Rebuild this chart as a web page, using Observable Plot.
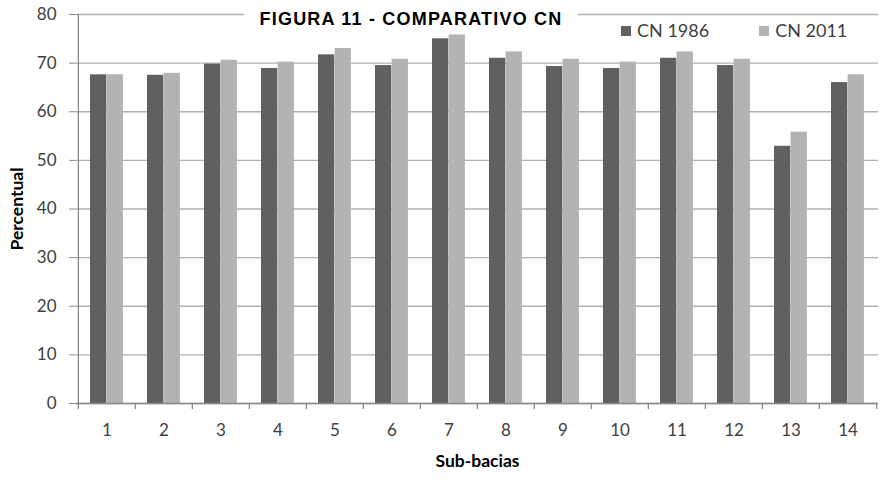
<!DOCTYPE html>
<html>
<head>
<meta charset="utf-8">
<script src="https://cdn.jsdelivr.net/npm/d3@7"></script>
<script src="https://cdn.jsdelivr.net/npm/@observablehq/plot@0.6"></script>
<style>
  html, body { margin: 0; padding: 0; background: #fff; }
  #wrap { position: relative; width: 885px; height: 480px; }
  #title { position: absolute; top: 9px; left: 244px; width: 334px; text-align: center;
    font: bold 18px "Liberation Sans", Arial, sans-serif; letter-spacing: 1.2px; color: #000; background: #fff; line-height: 20px; }
  #legend { position: absolute; top: 19px; left: 621px; font: 18px Lato, sans-serif; color: #404040; display: flex; gap: 50px; }
  #legend span.sw { display: inline-block; width: 10px; height: 10px; margin-right: 6px; vertical-align: 1px; }
</style>
</head>
<body>
<div id="wrap">
  <div id="chart"></div>
  <div id="title"></div>
  <div id="legend"></div>
</div>
<script>
const titleText = "FIGURA 11 - COMPARATIVO CN";
const categories = ["1","2","3","4","5","6","7","8","9","10","11","12","13","14"];
const seriesNames = ["CN 1986", "CN 2011"];
const cn1986 = [67.6, 67.5, 69.8, 68.9, 71.7, 69.5, 75.0, 71.0, 69.3, 68.9, 71.0, 69.5, 52.9, 66.0];
const cn2011 = [67.6, 67.9, 70.6, 70.2, 73.0, 70.8, 75.8, 72.3, 70.8, 70.2, 72.3, 70.8, 55.8, 67.6];
const yTicks = [0, 10, 20, 30, 40, 50, 60, 70, 80];
const colors = ["#606060", "#b3b3b3"];

const d1 = categories.map((c, i) => ({cat: c, value: cn1986[i]}));
const d2 = categories.map((c, i) => ({cat: c, value: cn2011[i]}));

const W = 885, H = 480, mL = 76, mR = 7;
const step = (W - mL - mR) / categories.length;
const half = step / 2;

const chart = Plot.plot({
  width: W, height: H,
  marginLeft: mL, marginRight: mR, marginTop: 14, marginBottom: 77,
  style: {fontFamily: "Lato, sans-serif", fontSize: "17px", color: "#404040", background: "#fff"},
  x: {type: "band", domain: categories, padding: 0},
  y: {domain: [0, 80]},
  marks: [
    Plot.ruleY(yTicks, {stroke: "#b0b0b0", strokeWidth: 1.3}),
    Plot.barY(d1, {x: "cat", y: "value", fill: colors[0], insetLeft: 12, insetRight: step - 28.6}),
    Plot.barY(d2, {x: "cat", y: "value", fill: colors[1], insetLeft: 28.6, insetRight: step - 45.2}),
    Plot.ruleY([0], {stroke: "#8a8a8a", strokeWidth: 1.3}),
    Plot.ruleX([categories[0]], {dx: -half, y1: 0, y2: 80, stroke: "#8a8a8a", strokeWidth: 1.3}),
    Plot.ruleX(categories, {dx: -half, y1: 0, y2: -1.25, stroke: "#8a8a8a", strokeWidth: 1.3}),
    Plot.ruleX([categories[categories.length - 1]], {dx: half, y1: 0, y2: -1.25, stroke: "#8a8a8a", strokeWidth: 1.3}),
    Plot.axisY(yTicks, {tickSize: 7, tickPadding: 13, stroke: "#8a8a8a", label: "Percentual", labelAnchor: "center", labelArrow: "none", labelOffset: 66, fontSize: 17}),
    Plot.axisX({tickSize: 0, tickPadding: 20, label: "Sub-bacias", labelAnchor: "center", labelArrow: "none", labelOffset: 63, fontSize: 17})
  ]
});
document.getElementById("chart").appendChild(chart);

chart.querySelectorAll("g[aria-label='y-axis label'] text, g[aria-label='x-axis label'] text").forEach(t => {
  t.setAttribute("font-weight", "bold");
  t.setAttribute("fill", "#000");
  t.setAttribute("font-size", "17.5");
});

document.getElementById("title").textContent = titleText;
const leg = document.getElementById("legend");
seriesNames.forEach((n, i) => {
  const s = document.createElement("span");
  s.innerHTML = `<span class="sw" style="background:${colors[i]}"></span>${n}`;
  leg.appendChild(s);
});
</script>
</body>
</html>
